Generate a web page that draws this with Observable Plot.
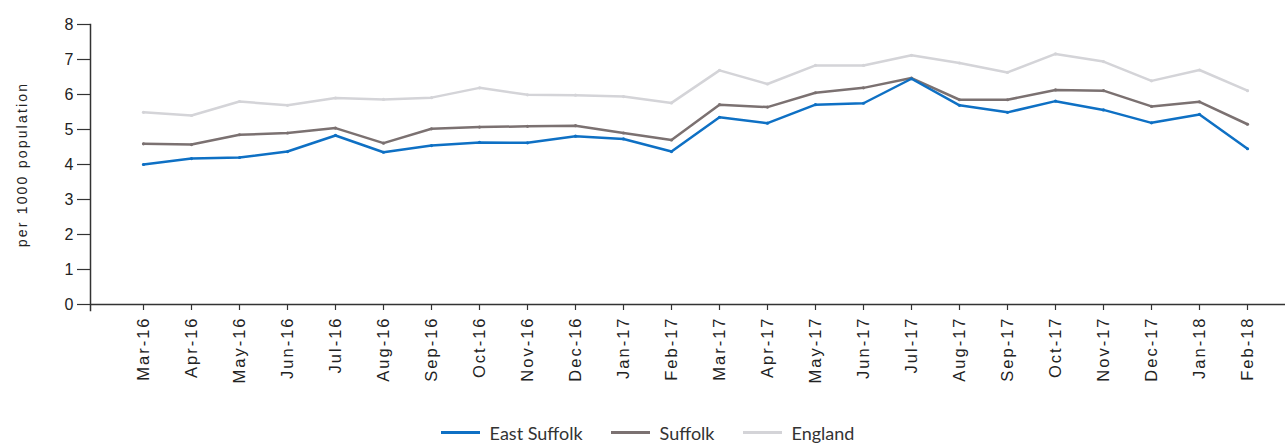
<!DOCTYPE html>
<html>
<head>
<meta charset="utf-8">
<script src="https://cdn.jsdelivr.net/npm/d3@7"></script>
<script src="https://cdn.jsdelivr.net/npm/@observablehq/plot@0.6"></script>
<style>
  html, body { margin: 0; padding: 0; background: #fff; }
  #chart svg { display: block; }
  [aria-label="x-axis tick label"] text { letter-spacing: 2px; }
  g[aria-label="text"] text { letter-spacing: 2.2px; }
  #legend { display: flex; justify-content: center; align-items: center; height: 31px; margin-top: 5px; font-family: Lato, sans-serif; font-size: 18px; color: #333; padding-left: 8px; }
  .item { display: flex; align-items: center; margin: 0 14px; }
  .sw { width: 39px; height: 3px; margin-right: 10px; }
</style>
</head>
<body>
<div id="chart"></div>
<div id="legend"></div>
<script>
const months = ["Mar-16","Apr-16","May-16","Jun-16","Jul-16","Aug-16","Sep-16","Oct-16","Nov-16","Dec-16","Jan-17","Feb-17","Mar-17","Apr-17","May-17","Jun-17","Jul-17","Aug-17","Sep-17","Oct-17","Nov-17","Dec-17","Jan-18","Feb-18"];
const eastSuffolk = [4.00,4.17,4.20,4.37,4.83,4.35,4.54,4.63,4.62,4.81,4.73,4.37,5.35,5.18,5.71,5.75,6.45,5.69,5.49,5.81,5.56,5.19,5.43,4.45];
const suffolk = [4.59,4.57,4.85,4.90,5.04,4.61,5.02,5.07,5.09,5.11,4.90,4.70,5.71,5.64,6.05,6.19,6.47,5.85,5.85,6.13,6.11,5.66,5.79,5.15];
const england = [5.49,5.40,5.80,5.69,5.90,5.86,5.91,6.19,5.99,5.98,5.94,5.76,6.69,6.30,6.83,6.83,7.12,6.90,6.63,7.16,6.94,6.39,6.70,6.11];
const seriesNames = ["East Suffolk","Suffolk","England"];
const seriesColors = ["#0e70c4","#7b7171","#d4d4d8"];
const yTicks = [0,1,2,3,4,5,6,7,8];
const yLabel = "per 1000 population";

const data = [];
[[england,"England"],[suffolk,"Suffolk"],[eastSuffolk,"East Suffolk"]].forEach(([vals,name]) => {
  vals.forEach((v,i) => data.push({month: months[i], value: v, series: name}));
});

const chart = Plot.plot({
  width: 1287, height: 412,
  marginTop: 24, marginBottom: 108, marginLeft: 90, marginRight: 2,
  style: {fontFamily: "'Liberation Sans', Arial, sans-serif", color: "#222", background: "white", overflow: "visible"},
  x: {type: "point", domain: months, range: [139, 1250], padding: 0},
  y: {domain: [0, 8]},
  color: {domain: seriesNames, range: seriesColors},
  marks: [
    Plot.axisY({ticks: yTicks, tickSize: 13, tickPadding: 4, fontSize: 16, label: null, stroke: "#333", strokeWidth: 1.2}),
    Plot.axisX({tickSize: 6, tickPadding: 6, tickRotate: -90, fontSize: 16.5, label: null, stroke: "#333", strokeWidth: 1.2}),
    Plot.frame({anchor: "left", insetBottom: -6, stroke: "#333", strokeWidth: 1.5}),
    Plot.ruleY([0], {stroke: "#333", strokeWidth: 1.5}),
    Plot.text([yLabel], {frameAnchor: "left", textAnchor: "middle", rotate: -90, dx: -68, fontSize: 14, fill: "#222"}),
    Plot.lineY(data, {x: "month", y: "value", stroke: "series", z: "series", strokeWidth: 2.5}),
    Plot.dot(data, {x: "month", y: "value", fill: "series", r: 1.6})
  ]
});
document.getElementById("chart").appendChild(chart);

const legend = document.getElementById("legend");
seriesNames.forEach((name, i) => {
  const item = document.createElement("div");
  item.className = "item";
  const sw = document.createElement("div");
  sw.className = "sw";
  sw.style.background = seriesColors[i];
  const label = document.createElement("span");
  label.textContent = name;
  item.appendChild(sw);
  item.appendChild(label);
  legend.appendChild(item);
});
</script>
</body>
</html>
